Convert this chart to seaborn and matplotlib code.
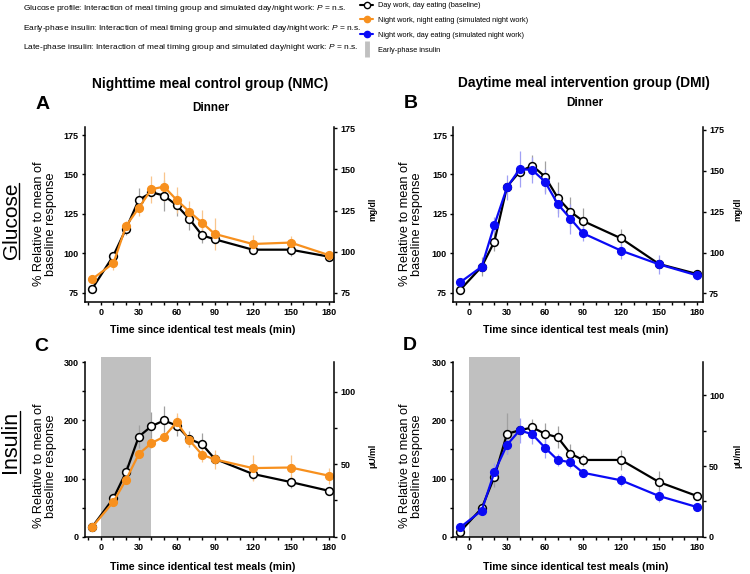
import matplotlib
matplotlib.use("Agg")
import pandas as pd
import seaborn as sns
from matplotlib import pyplot as plt
from matplotlib import font_manager
from matplotlib.lines import Line2D
from matplotlib.ticker import FixedLocator

# minutes relative to the test meal
times = [-7, 10, 20, 30, 40, 50, 60, 70, 80, 90, 120, 150, 180]

# Glucose, % of baseline mean (mean and SEM)
glu_nmc_base = [77.2, 98.5, 115.6, 133.8, 138.7, 136.6, 130.4, 121.8, 111.4, 108.9, 102.3, 102.3, 97.9]
glu_nmc_base_err = [2, 2, 4, 7.5, 3, 10, 7, 7, 5, 3, 3, 4, 2]
glu_nmc_night = [83.5, 93.7, 117.3, 128.7, 140.6, 142.3, 133.8, 126.4, 119.4, 112.3, 105.9, 106.8, 98.9]
glu_nmc_night_err = [2, 4, 3.5, 5, 8.5, 9, 8.5, 7, 8, 10, 6, 4, 2]

glu_dmi_base = [76.8, 91.5, 107.4, 142.3, 151.8, 155.6, 148.6, 135.3, 126.4, 120.5, 109.5, 93.2, 86.9]
glu_dmi_base_err = [2, 6, 6, 3, 4, 7, 10, 10, 9.5, 8, 6, 3, 2]
glu_dmi_night = [81.6, 91.5, 118, 141.8, 153.5, 152.8, 145.4, 131.3, 122, 112.7, 101.7, 93, 86]
glu_dmi_night_err = [2, 3, 5, 8, 11.5, 8.5, 8, 8, 9.5, 5, 5, 6, 3]

# Insulin, % of baseline mean (mean and SEM)
ins_nmc_base = [16, 66, 111, 172, 190, 200, 191, 168, 159, 134, 108, 94, 79]
ins_nmc_base_err = [3, 9, 13, 20, 25, 24, 17, 13, 19, 8, 11, 10, 4]
ins_nmc_night = [16, 60, 98, 142, 161, 172, 197, 166, 141, 133, 118, 119, 105]
ins_nmc_night_err = [3, 6, 8, 8, 8, 8, 15, 10, 12, 16, 22, 21, 14]

ins_dmi_base = [8.6, 49, 103, 177, 183, 188, 177, 171, 143, 132, 132, 94, 70]
ins_dmi_base_err = [3, 8, 17, 35, 8, 14, 19, 19, 17, 10, 17, 19, 5]
ins_dmi_night = [16, 45, 111, 158, 183, 176, 153, 132, 128, 110, 97, 70, 51]
ins_dmi_night_err = [3, 6, 16, 16, 22, 16, 17, 11, 10, 6, 10, 10, 5]

legend_labels = ["Day work, day eating (baseline)",
                 "Night work, night eating (simulated night work)",
                 "Night work, day eating (simulated night work)",
                 "Early-phase insulin"]
header_lines = ["Glucose profile", "Early-phase insulin", "Late-phase insulin"]

ORANGE = "#f7901e"
ORANGE_ERR = "#f9c58c"
BLUE = "#0a0af5"
BLUE_ERR = "#a0a0f5"
GREY_ERR = "#a0a0a0"
BAND = "#c0c0c0"

sns.set_theme(style="ticks")
names = {f.name for f in font_manager.fontManager.ttflist}
NARROW = "Liberation Sans Narrow" if "Liberation Sans Narrow" in names else "Liberation Sans"
small = NARROW == "Liberation Sans Narrow"
plt.rcParams["font.family"] = ["Liberation Sans", "DejaVu Sans"]
plt.rcParams.update({
    "mathtext.fontset": "custom",
    "mathtext.rm": "Liberation Sans",
    "mathtext.it": "Liberation Sans:italic",
    "mathtext.bf": "Liberation Sans:bold",
    "axes.linewidth": 1.1,
    "text.color": "black",
    "axes.labelcolor": "black",
    "xtick.color": "black",
    "ytick.color": "black",
    "axes.edgecolor": "black",
})

W, H = 750, 574
fig = plt.figure(figsize=(7.5, 5.74), dpi=100)


def box(left, right, top, bottom):
    return [left / W, 1 - bottom / H, (right - left) / W, (bottom - top) / H]


def fx(x):
    return x / W


def fy(y):
    return 1 - y / H


def panel(rect, base, base_err, other, other_err, color, ecolor, ylim, yticks, yminor,
          ylim2, yticks2, yminor2, unit, unit_x, unit_y, band=False):
    ax = fig.add_axes(rect)
    if band:
        ax.axvspan(0, 40, ymin=0, ymax=1.025, color=BAND, lw=0, zorder=0, clip_on=False)
    df = pd.DataFrame({"time": times, "base": base, "other": other})
    ax.errorbar(times, base, yerr=base_err, fmt="none", ecolor=GREY_ERR, elinewidth=0.9, zorder=2)
    ax.errorbar(times, other, yerr=other_err, fmt="none", ecolor=ecolor, elinewidth=0.9, zorder=2)
    sns.lineplot(data=df, x="time", y="base", ax=ax, color="black", lw=1.6, marker="o",
                 markersize=5.6, markerfacecolor="white", markeredgecolor="black",
                 markeredgewidth=1.1, zorder=3)
    sns.lineplot(data=df, x="time", y="other", ax=ax, color=color, lw=1.6, marker="o",
                 markersize=5.6, markerfacecolor=color, markeredgecolor=color,
                 markeredgewidth=1.0, zorder=4)
    ax.set_xlim(-12.5, 184.5)
    ax.set_xticks(range(0, 181, 30))
    ax.xaxis.set_minor_locator(FixedLocator(range(-10, 181, 10)))
    ax.set_ylim(*ylim)
    ax.set_yticks(yticks)
    ax.yaxis.set_minor_locator(FixedLocator(yminor))
    ax.tick_params(which="both", direction="out", length=2.5, width=1, color="black",
                   labelcolor="black", labelsize=6.5, pad=2)
    ax.spines["top"].set_visible(False)
    ax.spines["right"].set_visible(False)
    ax.set_xlabel("Time since identical test meals (min)", fontsize=7.7, fontweight="bold")
    ax.set_ylabel("% Relative to mean of\nbaseline response", fontsize=9.2, linespacing=1.0)
    ax.grid(False)

    ax2 = ax.twinx()
    ax2.set_ylim(*ylim2)
    ax2.set_yticks(yticks2)
    ax2.yaxis.set_minor_locator(FixedLocator(yminor2))
    ax2.tick_params(which="both", direction="out", length=2.5, width=1, color="black",
                    labelcolor="black", labelsize=6.5, pad=2)
    for s in ["top", "left", "bottom"]:
        ax2.spines[s].set_visible(False)
    ax2.set_ylabel(unit, fontsize=6.3, fontweight="bold")
    ax2.yaxis.set_label_coords(unit_x, unit_y)
    ax2.grid(False)

    for lab in ax.get_xticklabels() + ax.get_yticklabels() + ax2.get_yticklabels():
        lab.set_fontweight("bold")
    return ax


glu_ticks = [75, 100, 125, 150, 175]
ins_ticks = [0, 100, 200, 300]

axA = panel(box(84.9, 334.4, 126.7, 301.7), glu_nmc_base, glu_nmc_base_err, glu_nmc_night,
            glu_nmc_night_err, ORANGE, ORANGE_ERR, (69.3, 180.3), glu_ticks, [],
            (69.5, 176), glu_ticks, [], "mg/dl", 1.135, 0.53)
axB = panel(box(453.2, 702.7, 126.7, 301.7), glu_dmi_base, glu_dmi_base_err, glu_dmi_night,
            glu_dmi_night_err, BLUE, BLUE_ERR, (69.3, 180.3), glu_ticks, [],
            (69.9, 177), glu_ticks, [], "mg/dl", 1.121, 0.53)
axC = panel(box(84.9, 334.4, 361.7, 536.7), ins_nmc_base, ins_nmc_base_err, ins_nmc_night,
            ins_nmc_night_err, ORANGE, ORANGE_ERR, (0, 301), ins_ticks, [50, 150, 250],
            (0, 120.8), [0, 50, 100], [25, 75], "μU/ml", 1.135, 0.46, band=True)
axD = panel(box(453.2, 702.7, 361.7, 536.7), ins_dmi_base, ins_dmi_base_err, ins_dmi_night,
            ins_dmi_night_err, BLUE, BLUE_ERR, (0, 301), ins_ticks, [50, 150, 250],
            (0, 123.8), [0, 50, 100], [25, 75], "μU/ml", 1.121, 0.46, band=True)

axA.yaxis.set_label_coords(-0.112, 0.444)
axB.yaxis.set_label_coords(-0.121, 0.444)
axC.yaxis.set_label_coords(-0.112, 0.404)
axD.yaxis.set_label_coords(-0.121, 0.404)
axA.xaxis.set_label_coords(0.471, -0.135)
axB.xaxis.set_label_coords(0.491, -0.135)
axC.xaxis.set_label_coords(0.471, -0.145)
axD.xaxis.set_label_coords(0.491, -0.145)

# column titles, panel letters, sub-titles
fig.text(fx(210.5), fy(84), "Nighttime meal control group (NMC)", ha="center", va="center",
         fontsize=9.9, fontweight="bold")
fig.text(fx(584), fy(83.3), "Daytime meal intervention group (DMI)", ha="center", va="center",
         fontsize=9.9, fontweight="bold")
fig.text(fx(211), fy(108), "Dinner", ha="center", va="center", fontsize=8.5, fontweight="bold")
fig.text(fx(584.5), fy(102.8), "Dinner", ha="center", va="center", fontsize=8.5, fontweight="bold")
for letter, x, y in [("A", 43, 105), ("B", 410.5, 103.3), ("C", 41.7, 346.7), ("D", 410, 346)]:
    fig.text(fx(x), fy(y), letter, ha="center", va="center", fontsize=14, fontweight="bold")

row_titles = []
for word, y, size in [("Glucose", 221, 15), ("Insulin", 442, 15.5)]:
    row_titles.append(fig.text(fx(11), fy(y), word, rotation=90, ha="center",
                               va="center", fontsize=size))

# statistics header
hsize = 7.0 if small else 6.0
for txt, y in zip(header_lines, [8.3, 28.3, 47.3]):
    fig.text(fx(23.3), fy(y),
             txt + r": Interaction of meal timing group and simulated day/night work: $\mathit{P}$ = n.s.",
             ha="left", va="center", fontsize=hsize, family=NARROW)

handles = [
    Line2D([0], [0], color="black", lw=1.5, marker="o", ms=4.5, mfc="white", mec="black", mew=1),
    Line2D([0], [0], color=ORANGE, lw=1.5, marker="o", ms=4.5, mfc=ORANGE, mec=ORANGE),
    Line2D([0], [0], color=BLUE, lw=1.5, marker="o", ms=4.5, mfc=BLUE, mec=BLUE),
    Line2D([0], [0], color=BAND, lw=0, marker="|", ms=11, mew=3.5),
]
lsize = 6.0 if small else 5.3
fig.legend(handles, legend_labels, loc="upper left", bbox_to_anchor=(fx(360), fy(2)),
           frameon=False, prop={"family": NARROW, "size": lsize}, handlelength=1.77,
           handletextpad=0.64, labelspacing=1.05, borderpad=0, borderaxespad=0)

# underline the rotated row titles
fig.canvas.draw()
renderer = fig.canvas.get_renderer()
for t in row_titles:
    bb = t.get_window_extent(renderer).transformed(fig.transFigure.inverted())
    x_line = bb.x1 - 1.5 / W
    fig.add_artist(Line2D([x_line, x_line], [bb.y0, bb.y1], color="black", lw=1.0,
                          transform=fig.transFigure))

fig.savefig("out.png", dpi=100)
